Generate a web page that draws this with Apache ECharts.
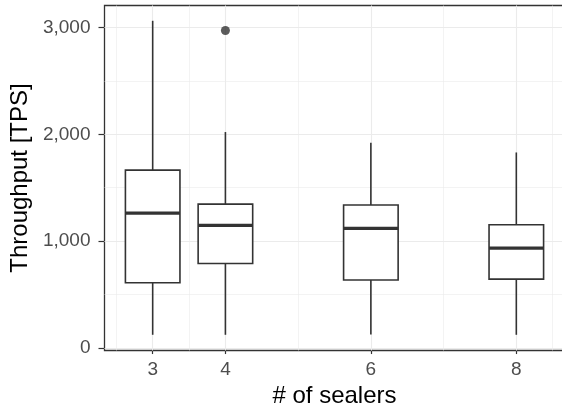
<!DOCTYPE html>
<html>
<head>
<meta charset="utf-8">
<script src="https://cdn.jsdelivr.net/npm/echarts@6/dist/echarts.min.js"></script>
<style>
  html, body { margin: 0; padding: 0; background: #fff; }
  #chart { width: 562px; height: 414px; }
</style>
</head>
<body>
<div id="chart"></div>
<script>
// 数据：每个 sealer 数量对应的箱线图统计值
const sealers = [3, 4, 6, 8];
const whiskerLow = [124, 124, 127, 124];
const q1 = [611, 791, 636, 645];
const median = [1263, 1147, 1119, 935];
const q3 = [1665, 1347, 1338, 1153];
const whiskerHigh = [3062, 2021, 1920, 1830];
const outliers = [[4, 2971]];

const yTicks = [0, 1000, 2000, 3000];
const xMajorGrid = [3, 4, 6, 8];
const xMinorGrid = [2.5, 3.5, 5, 7, 8.5];
const yMinorGrid = [500, 1500, 2500];

const boxWidth = 0.75;
const ink = '#333333';
const font = 'Liberation Sans, Arial, sans-serif';

const boxData = sealers.map((s, i) => [s, whiskerLow[i], q1[i], median[i], q3[i], whiskerHigh[i]]);

// 网格线（主/次）
const gridLines = [];
xMajorGrid.forEach(v => gridLines.push({ xAxis: v, lineStyle: { width: 1.1 } }));
xMinorGrid.forEach(v => gridLines.push({ xAxis: v, lineStyle: { width: 0.6 } }));
yTicks.forEach(v => gridLines.push({ yAxis: v, lineStyle: { width: 1.1 } }));
yMinorGrid.forEach(v => gridLines.push({ yAxis: v, lineStyle: { width: 0.6 } }));

function renderBox(params, api) {
  const x = api.value(0);
  const low = api.coord([x, api.value(1)]);
  const lo = api.coord([x, api.value(2)]);
  const med = api.coord([x, api.value(3)]);
  const hi = api.coord([x, api.value(4)]);
  const high = api.coord([x, api.value(5)]);
  const half = api.size([boxWidth, 0])[0] / 2;
  const cx = low[0];
  const stroke = { stroke: ink, lineWidth: 1.6 };
  return {
    type: 'group',
    children: [
      { type: 'line', shape: { x1: cx, y1: low[1], x2: cx, y2: lo[1] }, style: stroke },
      { type: 'line', shape: { x1: cx, y1: hi[1], x2: cx, y2: high[1] }, style: stroke },
      { type: 'rect', shape: { x: cx - half, y: hi[1], width: half * 2, height: lo[1] - hi[1] },
        style: { fill: '#fff', stroke: ink, lineWidth: 1.6 } },
      { type: 'line', shape: { x1: cx - half, y1: med[1], x2: cx + half, y2: med[1] },
        style: { stroke: ink, lineWidth: 3.2 } }
    ]
  };
}

const myChart = echarts.init(document.getElementById('chart'));

const option = {
  animation: false,
  grid: {
    left: 104.5,
    top: 5.5,
    width: 460,
    height: 345,
    show: true,
    borderColor: ink,
    borderWidth: 1.3,
    backgroundColor: '#fff',
    containLabel: false,
    outerBoundsMode: 'none'
  },
  xAxis: {
    type: 'value',
    min: 2.3375,
    max: 8.6625,
    name: '# of sealers',
    nameLocation: 'middle',
    nameGap: 34,
    nameTextStyle: { fontSize: 24, color: '#000', fontFamily: font },
    axisLine: { show: false },
    splitLine: { show: false },
    axisTick: { show: true, customValues: sealers, length: 6, lineStyle: { color: ink, width: 1.2 } },
    axisLabel: { customValues: sealers, fontSize: 19, color: '#4d4d4d', fontFamily: font, margin: 10 }
  },
  yAxis: {
    type: 'value',
    min: -23,
    max: 3205,
    name: 'Throughput [TPS]',
    nameLocation: 'middle',
    nameGap: 64,
    nameTextStyle: { fontSize: 24, color: '#000', fontFamily: font },
    axisLine: { show: false },
    splitLine: { show: false },
    axisTick: { show: true, customValues: yTicks, length: 6, lineStyle: { color: ink, width: 1.2 } },
    axisLabel: {
      customValues: yTicks, fontSize: 19, color: '#4d4d4d', fontFamily: font, margin: 14,
      formatter: v => Number(v).toLocaleString('en-US')
    }
  },
  series: [
    {
      type: 'line',
      data: [],
      silent: true,
      z: 1,
      markLine: {
        silent: true,
        z: 1,
        symbol: 'none',
        label: { show: false },
        lineStyle: { color: '#ebebeb', type: 'solid' },
        data: gridLines
      }
    },
    {
      type: 'custom',
      renderItem: renderBox,
      data: boxData,
      encode: { x: 0, y: [1, 2, 3, 4, 5] },
      z: 10
    },
    {
      type: 'scatter',
      data: outliers,
      symbolSize: 9,
      itemStyle: { color: ink },
      z: 11
    }
  ]
};

myChart.setOption(option);
</script>
</body>
</html>
